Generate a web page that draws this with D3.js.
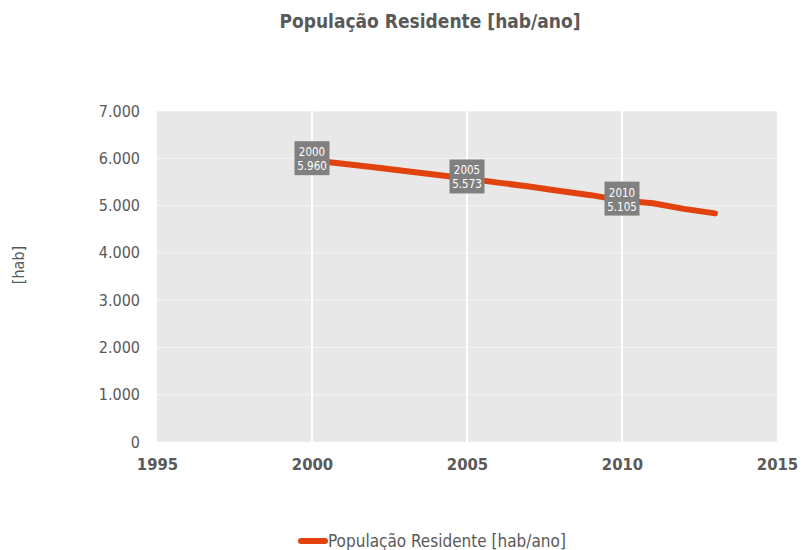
<!DOCTYPE html>
<html><head><meta charset="utf-8">
<script src="https://cdn.jsdelivr.net/npm/d3@7"></script>
<style>body{margin:0;background:#fff}svg{display:block}</style>
</head><body><svg id="c" width="803" height="550"></svg>
<script>
const years = [2000,2001,2002,2003,2004,2005,2006,2007,2008,2009,2010,2011,2012,2013];
const population = [5960,5885,5810,5730,5650,5573,5485,5405,5310,5220,5105,5050,4930,4835];
const labeledYears = [2000,2005,2010];
const xTicks = [1995,2000,2005,2010,2015];
const yTicks = [0,1000,2000,3000,4000,5000,6000,7000];
const title = "População Residente [hab/ano]";
const yLabel = "[hab]";
const seriesName = "População Residente [hab/ano]";

const svg = d3.select("#c");
const font = "'DejaVu Sans Condensed', 'DejaVu Sans', Verdana, sans-serif";
const txt = "#595959";
const m = {l:157, r:777, t:111, b:442};
const x = d3.scaleLinear().domain([1995,2015]).range([m.l, m.r]);
const y = d3.scaleLinear().domain([0,7000]).range([m.b, m.t]);
const fmt = v => d3.format(",")(v).replace(/,/g, ".");

svg.append("rect").attr("x", m.l).attr("y", m.t).attr("width", m.r-m.l).attr("height", m.b-m.t).attr("fill", "#E8E8E8");

svg.append("g").selectAll("line").data(yTicks).join("line")
  .attr("x1", m.l).attr("x2", m.r).attr("y1", d=>y(d)).attr("y2", d=>y(d))
  .attr("stroke", "#ffffff").attr("stroke-width", 1).attr("stroke-dasharray", "1,1");
svg.append("g").selectAll("line").data(xTicks.slice(1,-1)).join("line")
  .attr("x1", d=>x(d)).attr("x2", d=>x(d)).attr("y1", m.t).attr("y2", m.b)
  .attr("stroke", "#ffffff").attr("stroke-width", 2);

const yAxis = svg.append("g").attr("transform", `translate(${m.l},0)`)
  .call(d3.axisLeft(y).tickValues(yTicks).tickFormat(fmt).tickSize(0).tickPadding(17));
yAxis.select(".domain").remove();
yAxis.selectAll("text").attr("font-family", font).attr("font-size", 16).attr("fill", txt);

const xAxis = svg.append("g").attr("transform", `translate(0,${m.b})`)
  .call(d3.axisBottom(x).tickValues(xTicks).tickFormat(d3.format("d")).tickSize(0).tickPadding(16));
xAxis.select(".domain").remove();
xAxis.selectAll("text").attr("font-family", font).attr("font-size", 16.5).attr("font-weight", "bold").attr("fill", txt);

const line = d3.line().x((d,i)=>x(years[i])).y(d=>y(d));
svg.append("path").datum(population).attr("d", line)
  .attr("fill", "none").attr("stroke", "#E2420E").attr("stroke-width", 6)
  .attr("stroke-linecap", "round").attr("stroke-linejoin", "round");

const lab = svg.append("g").selectAll("g").data(labeledYears).join("g")
  .attr("transform", d => `translate(${x(d)},${y(population[years.indexOf(d)])})`);
lab.append("rect").attr("x", -17.5).attr("y", -19).attr("width", 35).attr("height", 34).attr("fill", "#808080");
lab.append("text").attr("y", -4).attr("text-anchor", "middle").attr("font-family", font).attr("font-size", 11.5).attr("fill", "#fff").text(d=>d);
lab.append("text").attr("y", 10).attr("text-anchor", "middle").attr("font-family", font).attr("font-size", 11.5).attr("fill", "#fff").text(d=>fmt(population[years.indexOf(d)]));

svg.append("text").attr("x", 430).attr("y", 28).attr("text-anchor", "middle")
  .attr("font-family", font).attr("font-size", 19).attr("font-weight", "bold").attr("fill", txt).text(title);

svg.append("text").attr("transform", "translate(24,265) rotate(-90)").attr("text-anchor", "middle")
  .attr("font-family", font).attr("font-size", 16).attr("fill", txt).text(yLabel);

svg.append("line").attr("x1", 301).attr("x2", 325).attr("y1", 541).attr("y2", 541)
  .attr("stroke", "#E2420E").attr("stroke-width", 6).attr("stroke-linecap", "round");
svg.append("text").attr("x", 328).attr("y", 547).attr("font-family", font).attr("font-size", 17).attr("fill", txt).text(seriesName);
</script></body></html>
